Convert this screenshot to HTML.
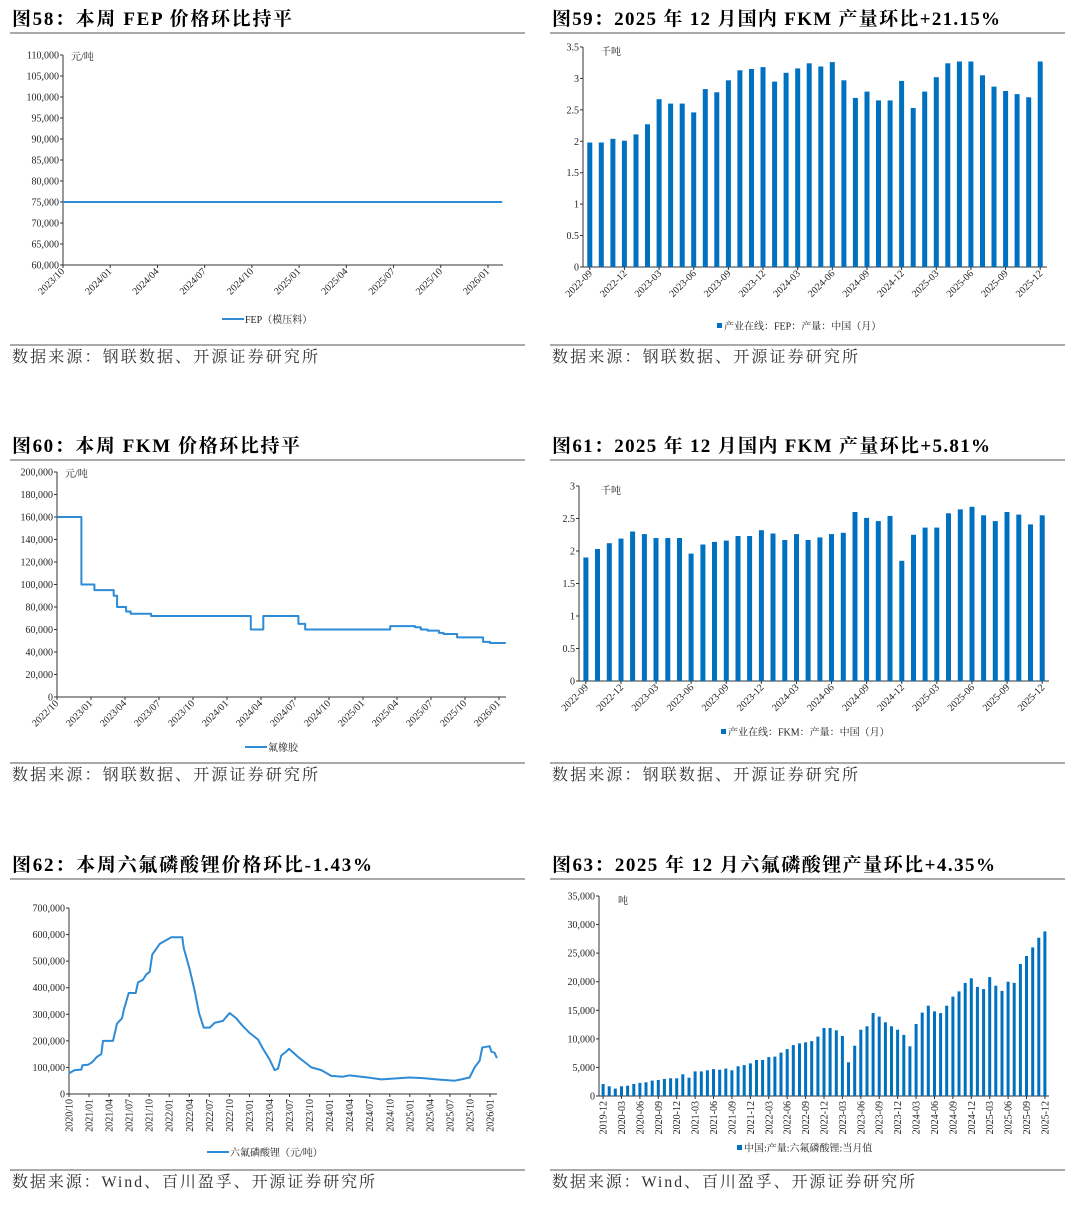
<!DOCTYPE html>
<html><head><meta charset="utf-8">
<style>
body{margin:0;background:#fff;}
svg{display:block;}
.t{font-family:"Liberation Serif","Noto Serif CJK SC",serif;font-weight:bold;font-size:19px;fill:#000;}
.src{font-family:"Liberation Serif","Noto Serif CJK SC",serif;font-size:16px;fill:#333;}
.tk{font-family:"Liberation Serif","Noto Serif CJK SC",serif;font-size:10px;fill:#222;}
.lg{font-family:"Liberation Serif","Noto Serif CJK SC",serif;font-size:10px;fill:#222;}
</style></head>
<body>
<svg id="svg" width="1080" height="1207" viewBox="0 0 1080 1207" xmlns="http://www.w3.org/2000/svg">
<g>
<text class="t" x="12" y="25" textLength="280" lengthAdjust="spacing">图58：本周 FEP 价格环比持平</text>
<line x1="10" y1="33" x2="525" y2="33" stroke="#555" stroke-width="1"/>
<line x1="10" y1="345" x2="525" y2="345" stroke="#555" stroke-width="1"/>
<text class="src" x="12" y="362" textLength="306" lengthAdjust="spacing">数据来源：钢联数据、开源证券研究所</text>
</g>
<g>
<text class="t" x="552" y="25" textLength="448" lengthAdjust="spacing">图59：2025 年 12 月国内 FKM 产量环比+21.15%</text>
<line x1="550" y1="33" x2="1065" y2="33" stroke="#555" stroke-width="1"/>
<line x1="550" y1="345" x2="1065" y2="345" stroke="#555" stroke-width="1"/>
<text class="src" x="552" y="362" textLength="306" lengthAdjust="spacing">数据来源：钢联数据、开源证券研究所</text>
</g>
<g>
<text class="t" x="12" y="452" textLength="288" lengthAdjust="spacing">图60：本周 FKM 价格环比持平</text>
<line x1="10" y1="460" x2="525" y2="460" stroke="#555" stroke-width="1"/>
<line x1="10" y1="763" x2="525" y2="763" stroke="#555" stroke-width="1"/>
<text class="src" x="12" y="780" textLength="306" lengthAdjust="spacing">数据来源：钢联数据、开源证券研究所</text>
</g>
<g>
<text class="t" x="552" y="452" textLength="438" lengthAdjust="spacing">图61：2025 年 12 月国内 FKM 产量环比+5.81%</text>
<line x1="550" y1="460" x2="1065" y2="460" stroke="#555" stroke-width="1"/>
<line x1="550" y1="763" x2="1065" y2="763" stroke="#555" stroke-width="1"/>
<text class="src" x="552" y="780" textLength="306" lengthAdjust="spacing">数据来源：钢联数据、开源证券研究所</text>
</g>
<g>
<text class="t" x="12" y="871" textLength="360" lengthAdjust="spacing">图62：本周六氟磷酸锂价格环比-1.43%</text>
<line x1="10" y1="879" x2="525" y2="879" stroke="#555" stroke-width="1"/>
<line x1="10" y1="1170" x2="525" y2="1170" stroke="#555" stroke-width="1"/>
<text class="src" x="12" y="1187" textLength="363" lengthAdjust="spacing">数据来源：Wind、百川盈孚、开源证券研究所</text>
</g>
<g>
<text class="t" x="552" y="871" textLength="443" lengthAdjust="spacing">图63：2025 年 12 月六氟磷酸锂产量环比+4.35%</text>
<line x1="550" y1="879" x2="1065" y2="879" stroke="#555" stroke-width="1"/>
<line x1="550" y1="1170" x2="1065" y2="1170" stroke="#555" stroke-width="1"/>
<text class="src" x="552" y="1187" textLength="363" lengthAdjust="spacing">数据来源：Wind、百川盈孚、开源证券研究所</text>
</g>
</svg>
<script>
// ---- Chart 58: FEP price (month offsets from 2023/10) ----
const fepMonths = [0, 27.9];
const fepValues = [75000, 75000];
const fepXTicks = ['2023/10','2024/01','2024/04','2024/07','2024/10','2025/01','2025/04','2025/07','2025/10','2026/01'];
const fepYTicks = [60000,65000,70000,75000,80000,85000,90000,95000,100000,105000,110000];

// ---- Chart 59: FEP production ----
const fepProdCats = ['2022-09','2022-10','2022-11','2022-12','2023-01','2023-02','2023-03','2023-04','2023-05','2023-06','2023-07','2023-08','2023-09','2023-10','2023-11','2023-12','2024-01','2024-02','2024-03','2024-04','2024-05','2024-06','2024-07','2024-08','2024-09','2024-10','2024-11','2024-12','2025-01','2025-02','2025-03','2025-04','2025-05','2025-06','2025-07','2025-08','2025-09','2025-10','2025-11','2025-12'];
const fepProdValues = [1.98,1.98,2.04,2.01,2.11,2.27,2.67,2.60,2.60,2.46,2.83,2.78,2.97,3.13,3.15,3.18,2.95,3.09,3.16,3.24,3.19,3.26,2.97,2.69,2.79,2.65,2.65,2.96,2.53,2.79,3.02,3.24,3.27,3.27,3.05,2.87,2.80,2.75,2.70,3.27];
const fepProdYTicks = [0,0.5,1,1.5,2,2.5,3,3.5];
const fepProdYLabels = ['0','0.5','1','1.5','2','2.5','3','3.5'];

// ---- Chart 60: FKM price (step, month offsets from 2022/10) ----
const fkmMonths = [0,2.15,2.15,3.3,3.3,5.0,5.0,5.3,5.3,6.1,6.1,6.5,6.5,8.3,8.3,17.1,17.1,18.2,18.2,21.3,21.3,21.9,21.9,29.4,29.4,31.6,31.6,32.1,32.1,32.7,32.7,33.7,33.7,34.1,34.1,35.3,35.3,37.6,37.6,38.2,38.2,39.6];
const fkmValues = [160000,160000,100000,100000,95000,95000,90000,90000,80000,80000,76000,76000,74000,74000,72000,72000,60000,60000,72000,72000,65000,65000,60000,60000,63000,63000,62000,62000,60000,60000,59000,59000,57000,57000,56000,56000,53000,53000,49000,49000,48000,48000];
const fkmXTicks = ['2022/10','2023/01','2023/04','2023/07','2023/10','2024/01','2024/04','2024/07','2024/10','2025/01','2025/04','2025/07','2025/10','2026/01'];
const fkmYTicks = [0,20000,40000,60000,80000,100000,120000,140000,160000,180000,200000];

// ---- Chart 61: FKM production ----
const fkmProdCats = fepProdCats.slice();
const fkmProdValues = [1.90,2.03,2.12,2.19,2.30,2.26,2.20,2.20,2.20,1.96,2.10,2.14,2.16,2.23,2.23,2.32,2.27,2.17,2.26,2.17,2.21,2.26,2.28,2.60,2.51,2.46,2.54,1.85,2.25,2.36,2.36,2.58,2.64,2.68,2.55,2.46,2.60,2.56,2.41,2.55];
const fkmProdYTicks = [0,0.5,1,1.5,2,2.5,3];
const fkmProdYLabels = ['0','0.5','1','1.5','2','2.5','3'];

// ---- Chart 62: LiPF6 price (month offsets from 2020/10) ----
const lipfMonths = [0,0.85,1.85,2.0,2.84,3.49,4.19,4.84,5.09,6.58,6.83,7.18,7.93,8.18,8.93,9.98,10.32,11.07,11.57,12.07,12.47,13.57,15.31,16.96,17.16,18.05,18.8,19.45,20.15,21.05,21.8,23.04,24.04,25.04,26.03,27.03,28.28,29.03,30.02,30.77,31.27,31.77,32.52,32.92,34.26,35.51,36.26,37.76,39.25,40.99,41.99,44.73,46.73,50.97,52.97,54.96,57.71,58.7,59.95,60.7,61.45,61.85,62.94,63.19,63.69,64.04];
const lipfValues = [78000,90000,92000,108000,110000,120000,140000,150000,200000,200000,225000,265000,285000,315000,380000,380000,420000,430000,450000,460000,525000,565000,590000,590000,550000,470000,390000,305000,250000,250000,268000,275000,305000,285000,255000,230000,205000,170000,130000,90000,95000,145000,160000,170000,140000,115000,100000,90000,68000,65000,70000,62000,55000,62000,60000,55000,50000,55000,62000,100000,125000,175000,180000,160000,155000,135000];
const lipfXTicks = ['2020/10','2021/01','2021/04','2021/07','2021/10','2022/01','2022/04','2022/07','2022/10','2023/01','2023/04','2023/07','2023/10','2024/01','2024/04','2024/07','2024/10','2025/01','2025/04','2025/07','2025/10','2026/01'];
const lipfYTicks = [0,100000,200000,300000,400000,500000,600000,700000];

// ---- Chart 63: LiPF6 production ----
const lipfProdCats = (function(){const a=[];for(let y=2019;y<=2025;y++){for(let m=1;m<=12;m++){if(y===2019&&m<12)continue;a.push(y+'-'+(m<10?'0':'')+m);}}return a;})();
const lipfProdValues = [2100,1700,1300,1700,1800,2100,2300,2400,2700,2800,3000,3100,3100,3800,3200,4300,4300,4500,4700,4600,4800,4500,5200,5400,5700,6300,6300,6800,6900,7600,8200,8900,9200,9400,9600,10400,11900,11900,11500,10500,5900,8800,11600,12200,14500,13900,12900,12200,11600,10700,8700,12600,14600,15800,14800,14500,15800,17400,18300,19800,20600,19100,18700,20800,19300,18400,20000,19800,23100,24500,26000,27700,28800];
const lipfProdYTicks = [0,5000,10000,15000,20000,25000,30000,35000];

const NS='http://www.w3.org/2000/svg';
const svg=document.getElementById('svg');
const BLUE='#0070C0', LINE='#2E8BD6';
function mk(tag,attrs,parent){const e=document.createElementNS(NS,tag);for(const k in attrs)e.setAttribute(k,attrs[k]);(parent||svg).appendChild(e);return e;}
function fmt(v){return v.toLocaleString('en-US');}
function lin(d0,d1,r0,r1){return v=>r0+(v-d0)/(d1-d0)*(r1-r0);}

function yAxis(g,x,y,ticks,labels,top,bottom){
  mk('line',{x1:x,y1:top,x2:x,y2:bottom,stroke:'#333','stroke-width':1},g);
  ticks.forEach((t,i)=>{
    const yy=y(t);
    mk('line',{x1:x-3,y1:yy,x2:x,y2:yy,stroke:'#333','stroke-width':1},g);
    const tx=mk('text',{x:x-4,y:yy+3.5,'text-anchor':'end',class:'tk'},g);
    
    
    tx.textContent=labels?labels[i]:fmt(t);
  });
}
function xLabel(g,x,y,text,rot){
  const tx=mk('text',{x:x,y:y,'text-anchor':'end',class:'tk',transform:'rotate('+rot+' '+x+' '+y+')'},g);
  
  
  tx.textContent=text;
}
function unit(g,x,y,t){const u=mk('text',{x:x,y:y,class:'lg'},g);
  
  
  u.textContent=t;}
function legendLine(g,x,y,t){
  const grp=mk('g',{},g);
  
  
  mk('line',{x1:x,y1:y,x2:x+22,y2:y,stroke:LINE,'stroke-width':2},grp);
  const tx=mk('text',{x:x+23,y:y+4,class:'lg'},grp);tx.textContent=t;
}
function legendBox(g,x,y,t){
  const grp=mk('g',{},g);
  
  
  mk('rect',{x:x,y:y-3,width:5,height:5,fill:BLUE},grp);
  const tx=mk('text',{x:x+7,y:y+3.5,class:'lg'},grp);tx.textContent=t;
}

function lineChart(o,months,values,xticks,yticks){
  const g=mk('g',{});
  
  
  const x=lin(0,o.mPerTick*(xticks.length-1),o.x0,o.xt),y=lin(yticks[0],yticks[yticks.length-1],o.yb,o.yt);
  yAxis(g,o.x0,y,yticks,null,o.yt,o.yb);
  mk('line',{x1:o.x0,y1:o.yb,x2:o.x1,y2:o.yb,stroke:'#333','stroke-width':1},g);
  xticks.forEach((t,i)=>{const xx=x(i*o.mPerTick);
    mk('line',{x1:xx,y1:o.yb,x2:xx,y2:o.yb+3,stroke:'#333','stroke-width':1},g);
    if(o.rot===-90) xLabel(g,xx+3.5,o.yb+5,t,-90); else xLabel(g,xx+2,o.yb+7,t,-45);
  });
  const d=months.map((m,i)=>(i?'L':'M')+x(m).toFixed(1)+' '+y(values[i]).toFixed(1)).join(' ');
  const p=mk('path',{d:d,fill:'none',stroke:LINE,'stroke-width':2,'stroke-linejoin':'round'},g);
  
  
  if(!o.noUnit) unit(g,o.x0+8,o.yt+5,'元/吨');
  legendLine(g,o.lx,o.ly,o.legend);
}

function barChart(o,cats,values,yticks,ylabels){
  const g=mk('g',{});
  
  
  const y=lin(yticks[0],yticks[yticks.length-1],o.yb,o.yt);
  yAxis(g,o.x0,y,yticks,ylabels,o.yt,o.yb);
  mk('line',{x1:o.x0,y1:o.yb,x2:o.x1,y2:o.yb,stroke:'#333','stroke-width':1},g);
  const n=cats.length,slot=(o.x1-o.x0-o.pad*2)/n;
  cats.forEach((c,i)=>{
    const cx=o.x0+o.pad+slot*(i+0.5);
    const r=mk('rect',{x:(cx-o.bw/2).toFixed(1),y:y(values[i]).toFixed(1),width:o.bw,height:(o.yb-y(values[i])).toFixed(1),fill:BLUE},g);
    
    
    if(i%3===0){
      mk('line',{x1:cx,y1:o.yb,x2:cx,y2:o.yb+3,stroke:'#333','stroke-width':1},g);
      if(o.rot===-90) xLabel(g,cx+3.5,o.yb+5,c,-90); else xLabel(g,cx+3,o.yb+7,c,-45);
    }
  });
  unit(g,o.ux,o.yt+8,o.unit);
  legendBox(g,o.lx,o.ly,o.legend);
}

lineChart({name:'chart58-fep-price',x0:63,x1:503,xt:488,yt:55,yb:265,mPerTick:3,lx:222,ly:319,legend:'FEP（模压料）'},fepMonths,fepValues,fepXTicks,fepYTicks);
barChart({name:'chart59-fep-production',x0:583,x1:1047,pad:1,bw:5,yt:47,yb:267,ux:601,unit:'千吨',lx:717,ly:326,legend:'产业在线：FEP：产量：中国（月）'},fepProdCats,fepProdValues,fepProdYTicks,fepProdYLabels);
lineChart({name:'chart60-fkm-price',x0:57,x1:506,xt:499,yt:472,yb:697,mPerTick:3,lx:245,ly:747,legend:'氟橡胶'},fkmMonths,fkmValues,fkmXTicks,fkmYTicks);
barChart({name:'chart61-fkm-production',x0:579,x1:1049,pad:1,bw:5,yt:486,yb:681,ux:601,unit:'千吨',lx:721,ly:732,legend:'产业在线：FKM：产量：中国（月）'},fkmProdCats,fkmProdValues,fkmProdYTicks,fkmProdYLabels);
lineChart({name:'chart62-lipf6-price',x0:69,x1:497,xt:490,yt:908,yb:1094,mPerTick:3,rot:-90,noUnit:true,lx:207,ly:1152,legend:'六氟磷酸锂（元/吨）'},lipfMonths,lipfValues,lipfXTicks,lipfYTicks);
barChart({name:'chart63-lipf6-production',x0:599,x1:1049,pad:1,bw:3,yt:896,yb:1096,rot:-90,ux:618,unit:'吨',lx:737,ly:1148,legend:'中国:产量:六氟磷酸锂:当月值'},lipfProdCats,lipfProdValues,lipfProdYTicks,null);
</script>
</body></html>
